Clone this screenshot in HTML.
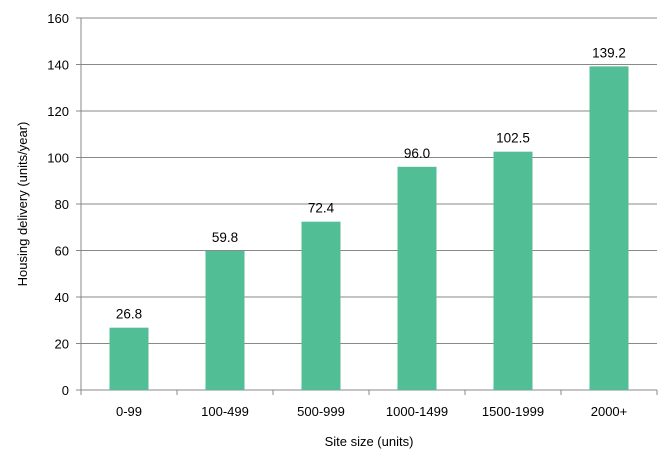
<!DOCTYPE html>
<html><head><meta charset="utf-8"><style>
body{margin:0;background:#fff;}
svg{display:block;font-family:"Liberation Sans",sans-serif;}
</style></head><body>
<svg id="chart" width="671" height="462"></svg>
<script>
const categories=["0-99","100-499","500-999","1000-1499","1500-1999","2000+"];
const values=[26.8,59.8,72.4,96.0,102.5,139.2];
const yTicks=[0,20,40,60,80,100,120,140,160];
const svg=document.getElementById('chart');
const NS='http://www.w3.org/2000/svg';
const x0=81,x1=657,yZero=390,yTop=18,yMax=160;
const bw=(x1-x0)/categories.length;
const y=v=>yZero-(v/yMax)*(yZero-yTop);
function mk(t,a,txt){const e=document.createElementNS(NS,t);for(const k in a)e.setAttribute(k,a[k]);if(txt!==undefined)e.textContent=txt;svg.appendChild(e);return e;}
yTicks.forEach(t=>{
  const g=mk('line',{x1:x0-5,x2:x1,y1:y(t),y2:y(t),stroke:'#888','stroke-width':1});
  
  
  const l=mk('text',{x:x0-12,y:y(t)+5,'text-anchor':'end','font-size':13,fill:'#000'},t);
  
  
});
const ax=mk('line',{x1:x0,x2:x0,y1:yTop,y2:yZero,stroke:'#888'});


for(let i=0;i<=categories.length;i++){
  const tk=mk('line',{x1:x0+i*bw,x2:x0+i*bw,y1:yZero,y2:yZero+5,stroke:'#888'});
  
  
}
categories.forEach((c,i)=>{
  const cx=x0+bw*(i+0.5);
  const b=mk('rect',{x:cx-19.5,y:y(values[i]),width:39,height:yZero-y(values[i]),fill:'#52be96'});
  
  
  const v=mk('text',{x:cx,y:y(values[i])-9,'text-anchor':'middle','font-size':13.5,fill:'#000'},values[i].toFixed(1));
  
  
  const l=mk('text',{x:cx,y:416,'text-anchor':'middle','font-size':13,fill:'#000'},c);
  
  
});
const xt=mk('text',{x:369,y:446,'text-anchor':'middle','font-size':13,fill:'#000'},'Site size (units)');


const yt=mk('text',{x:0,y:0,'text-anchor':'middle','font-size':13,fill:'#000',transform:'translate(27,204) rotate(-90)'},'Housing delivery (units/year)');


</script>
</body></html>
